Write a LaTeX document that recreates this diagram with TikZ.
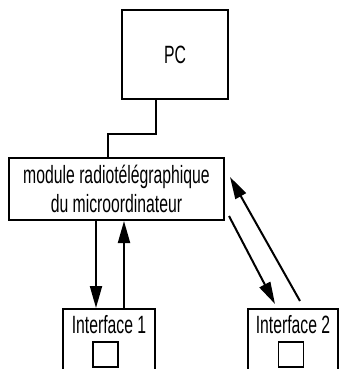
\documentclass[tikz,border=0pt]{standalone}
\usepackage{fontspec}
\setmainfont{Liberation Sans}[FakeStretch=0.63]
\usetikzlibrary{arrows.meta,positioning,calc}
\tikzset{
  every picture/.style={line width=2pt},
  box/.style={draw, align=center, inner sep=0pt},
  ann/.style={font=\fontsize{25}{29}\selectfont, inner sep=0pt, align=center},
  flow/.style={-{Triangle[length=22pt,width=12pt]}},
}

\begin{document}
\begin{tikzpicture}[x=1pt,y=-1pt]
\useasboundingbox (0,0) rectangle (339,369);
\clip (0,0) rectangle (339,369);

% ------------------------------------------------------------ host and module
\node[box, ann, minimum width=106pt, minimum height=89pt] (pc) at (175,54.5) {PC};
\node[box, ann, minimum width=215pt, minimum height=62pt] (mod) at (116.5,189)
      {module radiotélégraphique\\ du microordinateur};
\draw ([xshift=-19pt]pc.south) -- ++(0,34) -| ([xshift=-8.5pt]mod.north);

% ------------------------------------------------------------ the two interfaces
\node[box, minimum width=92pt, minimum height=100pt] (if1) at (109,359) {};
\node[box, minimum width=90pt, minimum height=100pt] (if2) at (293,359) {};
\node[ann, anchor=base] (if1t) at ([yshift=-25pt]if1.north) {Interface 1};
\node[ann, anchor=base] (if2t) at ([yshift=-25pt]if2.north) {Interface 2};
\node[box, line width=1.2pt, minimum size=25pt] (sq1) at (105.5,354.5) {};
\node[box, line width=1.2pt, minimum size=25pt] (sq2) at (291,354.5) {};

% ------------------------------------------------------------ links
\draw[flow] ([xshift=-20.5pt]mod.south) -- ([xshift=-13pt]if1.north);
\draw[flow] ([xshift=15pt]if1.north) -- ([xshift=7.5pt]mod.south);
\draw[flow] ([shift={(4,-5)}]mod.south east) -- ([shift={(-18,-4)}]if2.north);
\draw[flow] ([shift={(7,-7)}]if2.north) -- ([shift={(5,-12)}]mod.east);

\end{tikzpicture}
\end{document}
